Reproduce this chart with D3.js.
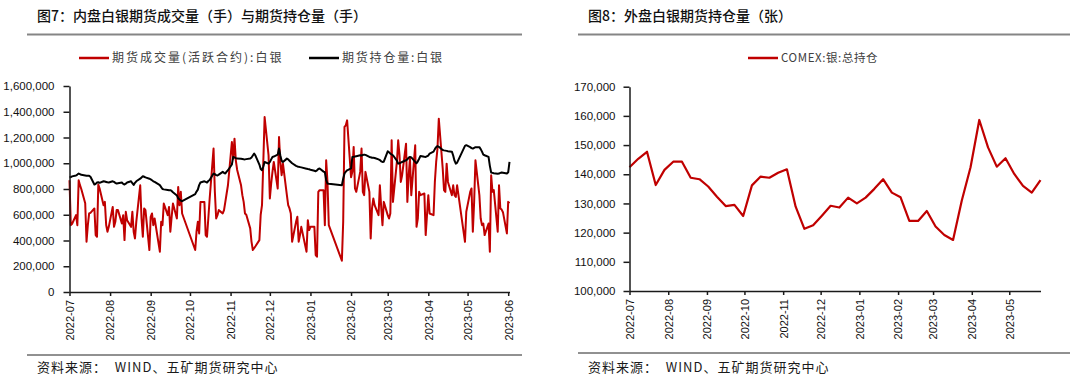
<!DOCTYPE html>
<html>
<head>
<meta charset="utf-8">
<script src="https://cdn.jsdelivr.net/npm/d3@7"></script>
<style>
  body { margin: 0; background: #fff; }
  svg text { font-family: "Liberation Sans", Arial, sans-serif; }
  .cn { font-family: "Noto Sans CJK SC", sans-serif; }
</style>
</head>
<body>
<svg id="chart" width="1080" height="381"></svg>
<script>

// ---- 图7: 内盘 (交易日, 按月) ----
var months = ["2022-07", "2022-08", "2022-09", "2022-10", "2022-11", "2022-12",
              "2023-01", "2023-02", "2023-03", "2023-04", "2023-05", "2023-06"];

var tradeDays = [
  [6,7,8,11,12,13,14,15,18,19,20,21,22,25,26,27,28,29],
  [1,2,3,4,5,8,9,10,11,12,15,16,17,18,19,22,23,24,25,26,29,30,31],
  [1,2,5,6,7,8,9,13,14,15,16,19,20,21,22,23,26,27,28,29,30],
  [10,11,12,13,14,17,18,19,20,21,24,25,26,27,28,31],
  [1,2,3,4,7,8,9,10,11,14,15,16,17,18,21,22,23,24,25,28,29,30],
  [1,2,5,6,7,8,9,12,13,14,15,16,19,20,21,22,23,26,27,28,29,30],
  [3,4,5,6,9,10,11,12,13,16,17,18,19,20,30,31],
  [1,2,3,6,7,8,9,10,13,14,15,16,17,20,21,22,23,24,27,28],
  [1,2,3,6,7,8,9,10,13,14,15,16,17,20,21,22,23,24,27,28,29,30,31],
  [3,4,6,7,10,11,12,13,14,17,18,19,20,21,24,25,26,27,28],
  [4,5,8,9,10,11,12,15,16,17,18,19,22,23,24,25,26,29,30,31],
  [1,2,5,6,7]
];

// 期货成交量(活跃合约):白银, 千手
var volume = [
  868,519,530,597,519,868,830,800,690,390,520,610,615,649,442,429,835,804,
  674,700,520,468,506,661,506,545,636,636,532,597,403,623,558,506,623,468,416,545,829,571,429,
  649,636,326,584,610,519,571,313,545,519,687,597,661,468,584,687,571,816,674,778,610,
  326,468,545,455,700,700,442,429,571,720,1114,778,571,597,636,610,
  636,700,765,829,1165,1036,1191,1023,950,829,752,700,610,600,494,390,326,340,355,403,600,674,
  1010,1359,1062,726,842,933,1010,804,1204,1010,907,997,752,674,649,610,390,545,584,390,442,506,
  313,558,481,506,506,287,274,778,791,791,519,1023,855,520,243,545,
  1282,1295,1333,891,933,1127,804,778,933,1114,778,752,933,778,416,649,726,674,597,829,
  661,519,700,597,571,610,1178,700,1010,1178,1062,855,907,1152,700,907,1036,752,1140,506,571,778,752,
  765,442,752,610,597,855,1010,1114,1346,959,791,778,997,855,752,829,752,739,829,
  390,623,778,804,468,700,1023,752,571,519,532,442,532,313,907,778,791,468,829,649,
  640,620,455,700,690
];

// 期货持仓量:白银, 千手
var openInterest = [
  890,893,898,905,912,920,915,910,905,903,902,902,895,835,840,850,852,848,
  860,858,855,852,850,860,855,848,842,845,850,840,835,842,850,860,845,832,848,860,880,890,899,
  895,890,880,875,868,860,855,830,815,800,797,792,790,791,785,775,750,728,718,710,705,
  760,780,795,830,850,860,855,850,862,870,920,915,908,905,912,933,
  925,920,935,946,990,1049,1045,1040,1036,1035,1033,1031,1030,1032,1036,1045,1060,1075,1060,990,955,946,
  975,1010,997,1010,1030,1049,1052,1067,1114,1060,1020,1010,1036,1030,1020,1010,1000,980,975,972,970,968,
  958,955,953,950,942,938,945,955,959,935,930,870,842,840,829,880,
  920,935,945,960,1049,1050,1052,1055,1062,1060,1064,1067,1065,1049,1046,1043,1042,1041,1030,1025,
  1015,1010,1012,1093,1085,1075,1068,1062,1020,997,1000,1005,1010,1023,1030,1044,1049,1045,1010,1000,1015,1035,1057,
  1050,1049,1060,1075,1090,1110,1125,1134,1128,1103,1100,1098,1096,1094,1090,1060,1020,997,1005,
  1135,1140,1125,1118,1114,1120,1125,1125,1110,1090,1067,1062,1049,980,928,925,922,918,920,925,
  928,926,920,930,1010
];

var leftYTicks = [0, 200, 400, 600, 800, 1000, 1200, 1400, 1600];

// ---- 图8: COMEX 周度持仓, 千张 ----
var comexStart = "2022-07-05";
var comexOI = [
  142.4,145.3,147.7,136.3,141.5,144.3,144.3,138.8,138.3,135.8,
  132.3,129.1,129.5,125.7,136.2,139.2,138.8,140.5,141.7,128.9,
  121.3,122.5,125.8,129.2,128.6,132.0,130.0,132.0,135.0,138.3,
  133.7,132.1,124.0,124.0,127.4,122.1,119.2,117.5,131.0,142.4,
  158.6,149.2,142.6,145.5,140.1,136.0,133.7,138.0
];
var rightYTicks = [100, 110, 120, 130, 140, 150, 160, 170];

var parseDate = d3.utcParse("%Y-%m-%d");
var fmtMonth = d3.utcFormat("%Y-%m");
var fmtNum = function(d) { return d3.format(",")(d * 1000); };

var dates = [];
months.forEach(function(m, i) {
  tradeDays[i].forEach(function(day) { dates.push(parseDate(m + "-" + day)); });
});

var comexDates = comexOI.map(function(v, i) {
  return d3.utcDay.offset(parseDate(comexStart), 7 * i);
});

var svg = d3.select("#chart");

// titles, separators, sources
function frame(x0, x1, titleX, title, lineY2, sourceX) {
  svg.append("text").attr("class", "cn")
    .attr("x", titleX).attr("y", 21)
    .attr("font-size", "14px").attr("fill", "#111")
    .attr("font-weight", 500)
    .text(title);
  svg.append("line")
    .attr("x1", x0).attr("x2", x1).attr("y1", 34.5).attr("y2", 34.5)
    .attr("stroke", "#858585").attr("stroke-width", 2);
  svg.append("line")
    .attr("x1", x0).attr("x2", x1).attr("y1", lineY2).attr("y2", lineY2)
    .attr("stroke", "#222").attr("stroke-width", 1);
  svg.append("text").attr("class", "cn")
    .attr("x", sourceX).attr("y", 372)
    .attr("font-size", "13px").attr("fill", "#1a1a1a")
    .attr("letter-spacing", "1px")
    .style("white-space", "pre")
    .text("资料来源：  WIND、五矿期货研究中心");
}

frame(27, 522, 37, "图7：内盘白银期货成交量（手）与期货持仓量（手）", 355, 37);
frame(578, 1070, 588, "图8：外盘白银期货持仓量（张）", 353, 588);

function legendItem(x, color, label, size, spacing) {
  svg.append("line")
    .attr("x1", x).attr("x2", x + 30).attr("y1", 58).attr("y2", 58)
    .attr("stroke", color).attr("stroke-width", 2.5);
  svg.append("text").attr("class", "cn")
    .attr("x", x + 33).attr("y", 62)
    .attr("font-size", size).attr("fill", "#404040")
    .attr("letter-spacing", spacing)
    .text(label);
}

legendItem(79, "#c00000", "期货成交量(活跃合约):白银", "12px", "2px");
legendItem(309, "#000", "期货持仓量:白银", "12px", "1.8px");
legendItem(748, "#c00000", "COMEX:银:总持仓", "11.5px", "0.6px");

function styleAxis(g) {
  g.selectAll("path, line").attr("stroke", "#1a1a1a").attr("stroke-width", 1.5);
  g.selectAll("text").attr("fill", "#111").attr("font-size", "11.5px")
    .attr("font-family", "'Liberation Sans', Arial, sans-serif");
}

function drawXAxis(x, yPos, tickDates) {
  var g = svg.append("g")
    .attr("transform", `translate(0, ${yPos})`)
    .call(d3.axisBottom(x).tickValues(tickDates).tickFormat(fmtMonth)
      .tickSize(4).tickSizeOuter(0));
  styleAxis(g);
  g.selectAll("text")
    .attr("font-size", "11px")
    .attr("transform", "rotate(-90)")
    .attr("text-anchor", "end")
    .attr("x", -8).attr("y", 0).attr("dy", "0.35em");
  return g;
}

function drawYAxis(y, xPos, ticks, pad) {
  var g = svg.append("g")
    .attr("transform", `translate(${xPos}, 0)`)
    .call(d3.axisLeft(y).tickValues(ticks).tickFormat(fmtNum)
      .tickSize(6).tickPadding(pad).tickSizeOuter(0));
  styleAxis(g);
  return g;
}

// ---- left chart ----
var leftX = d3.scaleUtc()
  .domain([dates[0], dates[dates.length - 1]])
  .range([69.5, 509.5]);
var leftY = d3.scaleLinear().domain([0, 1600]).range([292, 86]);

var leftTicks = d3.range(12).map(function(i) { return new Date(Date.UTC(2022, 6 + i, 6)); });

var volLine = d3.line()
  .x(function(d, i) { return leftX(dates[i]); })
  .y(function(d) { return leftY(d); });

svg.append("path").datum(volume)
  .attr("d", volLine)
  .attr("fill", "none").attr("stroke", "#c00000")
  .attr("stroke-width", 2).attr("stroke-linejoin", "round");

svg.append("path").datum(openInterest)
  .attr("d", volLine)
  .attr("fill", "none").attr("stroke", "#000")
  .attr("stroke-width", 2).attr("stroke-linejoin", "round");

drawXAxis(leftX, 292, leftTicks);
drawYAxis(leftY, 69.5, leftYTicks, 9);

// ---- right chart ----
var rightX = d3.scaleUtc()
  .domain([comexDates[0], comexDates[comexDates.length - 1]])
  .range([629.5, 1040.5]);
var rightY = d3.scaleLinear().domain([100, 170]).range([291, 86.7]);

var rightTicks = d3.range(11).map(function(i) { return new Date(Date.UTC(2022, 6 + i, 5)); });

var comexLine = d3.line()
  .x(function(d, i) { return rightX(comexDates[i]); })
  .y(function(d) { return rightY(d); });

svg.append("path").datum(comexOI)
  .attr("d", comexLine)
  .attr("fill", "none").attr("stroke", "#c00000")
  .attr("stroke-width", 2.2).attr("stroke-linejoin", "round");

drawXAxis(rightX, 291, rightTicks);
drawYAxis(rightY, 629.5, rightYTicks, 8);

</script>
</body>
</html>
